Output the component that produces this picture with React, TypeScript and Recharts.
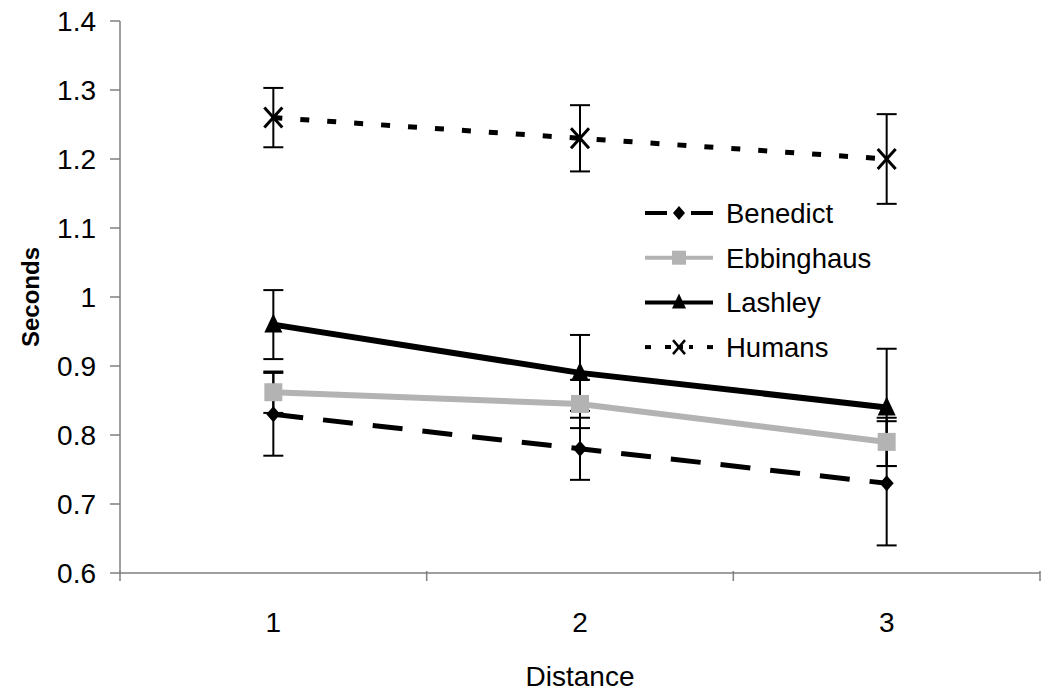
import { ErrorBar, Line, LineChart, XAxis, YAxis } from "recharts";

const distances = ["1", "2", "3"];
const benedict = [0.83, 0.78, 0.73];
const benedictErr = [0.06, 0.045, 0.09];
const ebbinghaus = [0.862, 0.845, 0.79];
const ebbinghausErr = [0.03, 0.035, 0.035];
const lashley = [0.96, 0.89, 0.84];
const lashleyErr = [0.05, 0.055, 0.085];
const humans = [1.26, 1.23, 1.2];
const humansErr = [0.043, 0.048, 0.065];
const yTicks = [0.6, 0.7, 0.8, 0.9, 1.0, 1.1, 1.2, 1.3, 1.4];

const data = distances.map((d, i) => ({
  d,
  benedict: benedict[i],
  benedictErr: benedictErr[i],
  ebbinghaus: ebbinghaus[i],
  ebbinghausErr: ebbinghausErr[i],
  lashley: lashley[i],
  lashleyErr: lashleyErr[i],
  humans: humans[i],
  humansErr: humansErr[i],
}));

const FONT = "'Liberation Sans', Arial, sans-serif";
const GRAY = "#b3b3b3";
const AXIS = "#7f7f7f";
const BAND = (1040 - 120) / 3;

// note: recharts passes r / fill to dot elements, so marker props use other names
const Diamond = ({ cx, cy, mk = 8 }: any) =>
  cx == null ? null : (
    <path d={`M${cx},${cy - mk} L${cx + mk - 1},${cy} L${cx},${cy + mk} L${cx - mk + 1},${cy} Z`} fill="#000" />
  );
const Square = ({ cx, cy, mk = 9 }: any) =>
  cx == null ? null : <rect x={cx - mk} y={cy - mk} width={mk * 2} height={mk * 2} fill={GRAY} />;
const Triangle = ({ cx, cy, mk = 9 }: any) =>
  cx == null ? null : (
    <path d={`M${cx},${cy - mk - 2} L${cx + mk},${cy + mk - 1} L${cx - mk},${cy + mk - 1} Z`} fill="#000" />
  );
const Cross = ({ cx, cy, mk = 9, sw = 3 }: any) =>
  cx == null ? null : (
    <g stroke="#000" strokeWidth={sw}>
      <line x1={cx - mk} y1={cy - mk - 1} x2={cx + mk} y2={cy + mk + 1} />
      <line x1={cx - mk} y1={cy + mk + 1} x2={cx + mk} y2={cy - mk - 1} />
    </g>
  );

const XTick = ({ x, y, payload, index }: any) => (
  <g>
    {index === 0 && <line x1={x - BAND / 2} y1={y - 10} x2={x - BAND / 2} y2={y} stroke={AXIS} strokeWidth={1.5} />}
    <line x1={x + BAND / 2} y1={y - 10} x2={x + BAND / 2} y2={y} stroke={AXIS} strokeWidth={1.5} />
    <text x={x} y={y + 51} textAnchor="middle" fontSize={28} fontFamily={FONT} fill="#000">
      {payload.value}
    </text>
  </g>
);

const legendItems = ["Benedict", "Ebbinghaus", "Lashley", "Humans"];

const LegendBox = () => (
  <svg width={260} height={180} style={{ position: "absolute", left: 643, top: 193 }}>
    {legendItems.map((name, i) => {
      const y = 20 + i * 44.7;
      return (
        <g key={name}>
          {name === "Benedict" && (
            <g>
              <line x1={2} y1={y} x2={24} y2={y} stroke="#000" strokeWidth={4} />
              <line x1={48} y1={y} x2={70} y2={y} stroke="#000" strokeWidth={4} />
              <Diamond cx={36} cy={y} mk={7} />
            </g>
          )}
          {name === "Ebbinghaus" && (
            <g>
              <line x1={2} y1={y} x2={70} y2={y} stroke={GRAY} strokeWidth={4} />
              <Square cx={36} cy={y} mk={7} />
            </g>
          )}
          {name === "Lashley" && (
            <g>
              <line x1={2} y1={y} x2={70} y2={y} stroke="#000" strokeWidth={4} />
              <Triangle cx={36} cy={y} mk={7} />
            </g>
          )}
          {name === "Humans" && (
            <g>
              <line x1={2} y1={y} x2={8} y2={y} stroke="#000" strokeWidth={4} />
              <line x1={22} y1={y} x2={50} y2={y} stroke="#000" strokeWidth={4} strokeDasharray="6 6" />
              <line x1={64} y1={y} x2={70} y2={y} stroke="#000" strokeWidth={4} />
              <Cross cx={36} cy={y} mk={6} sw={2.5} />
            </g>
          )}
          <text x={83} y={y + 10} fontSize={27.5} fontFamily={FONT} fill="#000">
            {name}
          </text>
        </g>
      );
    })}
  </svg>
);

export default function App() {
  return (
    <div style={{ position: "absolute", left: 0, top: 0, width: 1050, height: 692, background: "#fff" }}>
      <LineChart width={1050} height={692} data={data} margin={{ top: 21, right: 10, bottom: 0, left: 0 }}>
        <XAxis
          dataKey="d"
          scale="band"
          height={119}
          stroke={AXIS}
          strokeWidth={1.5}
          tickLine={false}
          tick={<XTick />}
          label={{ value: "Distance", position: "insideBottom", offset: 6, fontSize: 28, fontFamily: FONT, fill: "#000" }}
        />
        <YAxis
          width={120}
          domain={[0.6, 1.4]}
          ticks={yTicks}
          interval={0}
          stroke={AXIS}
          strokeWidth={1.5}
          tickSize={10}
          tickMargin={14}
          tickFormatter={(v: number) => (v === 1 ? "1" : v.toFixed(1))}
          tick={{ fontSize: 28, fontFamily: FONT, fill: "#000" }}
          label={{ value: "Seconds", angle: -90, position: "insideLeft", offset: 30, fontSize: 24, fontWeight: "bold", fontFamily: FONT, fill: "#000", style: { textAnchor: "middle" } }}
        />
        <Line
          dataKey="humans"
          stroke="#000"
          strokeWidth={5}
          strokeDasharray="9 18"
          dot={<Cross />}
          activeDot={false}
          isAnimationActive={false}
        >
          <ErrorBar dataKey="humansErr" direction="y" width={10} stroke="#000" strokeWidth={2} />
        </Line>
        <Line
          dataKey="lashley"
          stroke="#000"
          strokeWidth={6}
          dot={<Triangle />}
          activeDot={false}
          isAnimationActive={false}
        >
          <ErrorBar dataKey="lashleyErr" direction="y" width={10} stroke="#000" strokeWidth={2} />
        </Line>
        <Line
          dataKey="ebbinghaus"
          stroke={GRAY}
          strokeWidth={6}
          dot={<Square />}
          activeDot={false}
          isAnimationActive={false}
        >
          <ErrorBar dataKey="ebbinghausErr" direction="y" width={10} stroke="#000" strokeWidth={2} />
        </Line>
        <Line
          dataKey="benedict"
          stroke="#000"
          strokeWidth={5}
          strokeDasharray="30 20"
          dot={<Diamond />}
          activeDot={false}
          isAnimationActive={false}
        >
          <ErrorBar dataKey="benedictErr" direction="y" width={10} stroke="#000" strokeWidth={2} />
        </Line>
      </LineChart>
      <LegendBox />
    </div>
  );
}
